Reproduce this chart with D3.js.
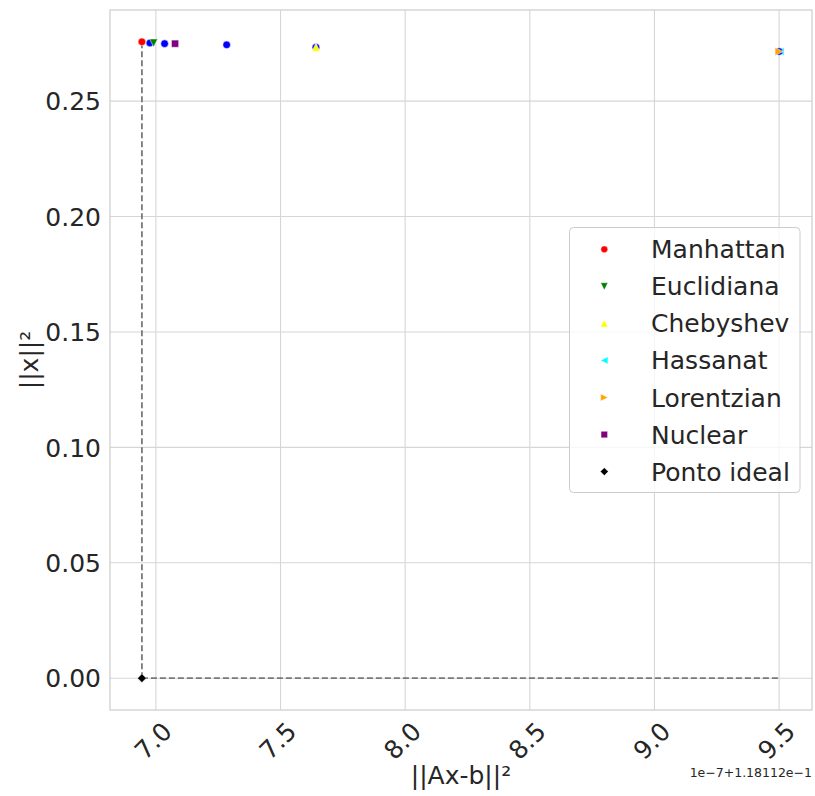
<!DOCTYPE html>
<html>
<head>
<meta charset="utf-8">
<script src="https://cdn.jsdelivr.net/npm/d3@7"></script>
<style>
  html, body { margin: 0; padding: 0; background: #ffffff; }
  svg { display: block; }
  text { font-family: "DejaVu Sans", sans-serif; fill: #262626; }
</style>
</head>
<body>
<svg id="chart" width="815" height="796"></svg>
<script>
// Residual norm ||Ax-b||² (shown as offset 1.18112e-1 + value·1e-7) against solution norm ||x||²
const xOffsetLabel = "1e\u22127+1.18112e\u22121";

// every computed solution (plain blue dots)
const solutionX = [6.976, 7.035, 7.284, 7.642, 9.500];
const solutionY = [0.2752, 0.2749, 0.2744, 0.2733, 0.2715];

// one solution per distance
const methodNames  = ["Manhattan", "Euclidiana", "Chebyshev", "Hassanat", "Lorentzian", "Nuclear"];
const methodX      = [6.944, 6.991, 7.642, 9.504, 9.500, 7.077];
const methodY      = [0.2757, 0.2752, 0.2733, 0.2715, 0.2715, 0.2749];
const methodColors = ["#ff0000", "#008000", "#ffff00", "#00ffff", "#ffa500", "#800080"];
const methodShapes = ["circle", "triDown", "triUp", "triLeft", "triRight", "square"];

// ideal point: smallest residual with zero norm
const idealName = "Ponto ideal";
const idealX = 6.944;
const idealY = 0.0;

const xTicks = [7.0, 7.5, 8.0, 8.5, 9.0, 9.5];
const yTicks = [0.00, 0.05, 0.10, 0.15, 0.20, 0.25];

const xLabel = "||Ax-b||\u00b2";
const yLabel = "||x||\u00b2";

// ---- layout ----
const plot = { left: 110, right: 812, top: 10, bottom: 710 };
const svg = d3.select("#chart");

const allX = solutionX.concat(methodX, [idealX]);
const allY = solutionY.concat(methodY, [idealY]);
function padded(ext) {
  const p = (ext[1] - ext[0]) * 0.05;
  return [ext[0] - p, ext[1] + p];
}
const x = d3.scaleLinear().domain(padded(d3.extent(allX))).range([plot.left, plot.right]);
const y = d3.scaleLinear().domain(padded(d3.extent(allY))).range([plot.bottom, plot.top]);

// grid
const grid = svg.append("g");
grid.selectAll("line.gx").data(xTicks).join("line")
  .attr("x1", d => x(d)).attr("x2", d => x(d))
  .attr("y1", plot.top).attr("y2", plot.bottom)
  .attr("stroke", "#d6d6d6").attr("stroke-width", 1.1);
grid.selectAll("line.gy").data(yTicks).join("line")
  .attr("y1", d => y(d)).attr("y2", d => y(d))
  .attr("x1", plot.left).attr("x2", plot.right)
  .attr("stroke", "#d6d6d6").attr("stroke-width", 1.1);

// frame
svg.append("rect")
  .attr("x", plot.left).attr("y", plot.top)
  .attr("width", plot.right - plot.left).attr("height", plot.bottom - plot.top)
  .attr("fill", "none").attr("stroke", "#cccccc").attr("stroke-width", 1.2);

// axes (tick labels only, no tick marks)
const xAxis = d3.axisBottom(x).tickValues(xTicks).tickFormat(d3.format(".1f")).tickSize(0);
const gx = svg.append("g").attr("transform", `translate(0,${plot.bottom})`).call(xAxis);
gx.select(".domain").remove();
gx.selectAll(".tick text")
  .attr("y", 0).attr("dy", null)
  .attr("text-anchor", "middle")
  .attr("dominant-baseline", "central")
  .attr("transform", "translate(-3,31) rotate(-45)")
  .style("font-size", "25px").style("font-family", "DejaVu Sans").attr("fill", "#262626");

const yAxis = d3.axisLeft(y).tickValues(yTicks).tickFormat(d3.format(".2f")).tickSize(0);
const gy = svg.append("g").attr("transform", `translate(${plot.left},0)`).call(yAxis);
gy.select(".domain").remove();
gy.selectAll(".tick text")
  .attr("x", -9).attr("dy", "0.35em")
  .style("font-size", "25px").style("font-family", "DejaVu Sans").attr("fill", "#262626");

// axis titles
svg.append("text")
  .attr("x", (plot.left + plot.right) / 2).attr("y", 784)
  .attr("text-anchor", "middle").style("font-size", "25px")
  .text(xLabel);
svg.append("text")
  .attr("transform", `translate(38,${(plot.top + plot.bottom) / 2}) rotate(-90)`)
  .attr("text-anchor", "middle").style("font-size", "25px")
  .text(yLabel);
svg.append("text")
  .attr("x", plot.right).attr("y", 777)
  .attr("text-anchor", "end").style("font-size", "12.5px")
  .text(xOffsetLabel);

// guide lines from the ideal point
const guides = svg.append("g")
  .attr("stroke", "#7a7a7a").attr("stroke-width", 1.8)
  .attr("stroke-dasharray", "6,3").attr("fill", "none");
guides.append("line")
  .attr("x1", x(idealX)).attr("x2", x(idealX))
  .attr("y1", y(idealY)).attr("y2", y(d3.max(methodY)));
guides.append("line")
  .attr("x1", x(idealX)).attr("x2", x(d3.max(methodX.filter((v, i) => methodNames[i] === "Lorentzian"))))
  .attr("y1", y(idealY)).attr("y2", y(idealY));

// marker shapes
function shapePath(shape, s) {
  switch (shape) {
    case "circle":   return d3.arc()({innerRadius: 0, outerRadius: s * 0.95, startAngle: 0, endAngle: 2 * Math.PI});
    case "square":   return `M${-s * 0.9},${-s * 0.9}H${s * 0.9}V${s * 0.9}H${-s * 0.9}Z`;
    case "triUp":    return `M0,${-s}L${s},${s}L${-s},${s}Z`;
    case "triDown":  return `M0,${s}L${s},${-s}L${-s},${-s}Z`;
    case "triLeft":  return `M${-s},0L${s},${-s}L${s},${s}Z`;
    case "triRight": return `M${s},0L${-s},${-s}L${-s},${s}Z`;
    case "diamond":  return `M0,${-s * 1.1}L${s * 1.1},0L0,${s * 1.1}L${-s * 1.1},0Z`;
  }
}
const mSize = 4;

function drawMethods(indices) {
  svg.append("g").selectAll("path").data(indices).join("path")
    .attr("transform", i => `translate(${x(methodX[i])},${y(methodY[i])})`)
    .attr("d", i => shapePath(methodShapes[i], mSize))
    .attr("fill", i => methodColors[i]).attr("stroke", "#ffffff").attr("stroke-width", 0.5);
}

// Hassanat sits beneath the solution dots, the remaining methods above them
const underIdx = methodNames.map((n, i) => i).filter(i => methodNames[i] === "Hassanat");
const overIdx = methodNames.map((n, i) => i).filter(i => methodNames[i] !== "Hassanat");
drawMethods(underIdx);

// all solutions
svg.append("g").selectAll("path").data(d3.range(solutionX.length)).join("path")
  .attr("transform", i => `translate(${x(solutionX[i])},${y(solutionY[i])})`)
  .attr("d", shapePath("circle", mSize))
  .attr("fill", "#0000ff").attr("stroke", "#ffffff").attr("stroke-width", 0.5);

drawMethods(overIdx);

// ideal point
svg.append("path")
  .attr("transform", `translate(${x(idealX)},${y(idealY)})`)
  .attr("d", shapePath("diamond", mSize))
  .attr("fill", "#000000").attr("stroke", "#ffffff").attr("stroke-width", 0.5);

// legend
const legendItems = methodNames.map((n, i) => ({ name: n, color: methodColors[i], shape: methodShapes[i] }))
  .concat([{ name: idealName, color: "#000000", shape: "diamond" }]);
const lg = svg.append("g");
lg.append("rect")
  .attr("x", 569.5).attr("y", 227.5).attr("width", 230.5).attr("height", 265)
  .attr("rx", 4).attr("fill", "#ffffff").attr("fill-opacity", 0.8)
  .attr("stroke", "#cccccc").attr("stroke-width", 1);
const rowY = i => 249.3 + i * 37.05;
lg.selectAll("path").data(legendItems).join("path")
  .attr("transform", (d, i) => `translate(604.3,${rowY(i)})`)
  .attr("d", d => shapePath(d.shape, 3.6))
  .attr("fill", d => d.color).attr("stroke", "#ffffff").attr("stroke-width", 0.4);
lg.selectAll("text").data(legendItems).join("text")
  .attr("x", 651).attr("y", (d, i) => rowY(i) + 9)
  .style("font-size", "25px")
  .text(d => d.name);
</script>
</body>
</html>
